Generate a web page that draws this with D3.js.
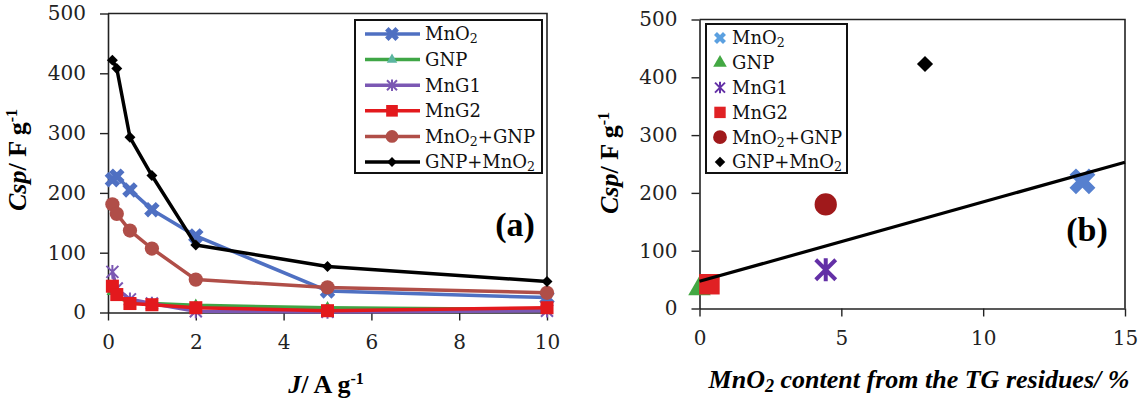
<!DOCTYPE html>
<html>
<head>
<meta charset="utf-8">
<script src="https://cdn.jsdelivr.net/npm/d3@7"></script>
<style>
body { margin: 0; background: #fff; }
</style>
</head>
<body>
<div id="chart"></div>
<script>
// ---- (a) Csp vs current density ----
const currentDensity = [0.1, 0.2, 0.5, 1, 2, 5, 10];
const cspMnO2    = [222, 228, 205, 172, 128, 36, 25];
const cspGNP     = [35, 25, 18, 15, 12, 8, 5];
const cspMnG1    = [68, 40, 22, 15, 2, 1, 3];
const cspMnG2    = [44, 30, 15, 13, 8, 3, 8];
const cspMnO2GNP = [181, 165, 137, 107, 55, 42, 33];
const cspGNPMnO2 = [422, 408, 293, 229, 113, 77, 52];
const seriesNames = ["MnO_2", "GNP", "MnG1", "MnG2", "MnO_2+GNP", "GNP+MnO_2"];

// ---- (b) Csp vs MnO2 content ----
const mno2Content = [13.5, 0, 4.45, 0.35, 4.45, 7.95];
const cspAtLowJ   = [220, 34, 67, 42, 180, 423];
const fitContent  = [0, 15];
const fitCsp      = [47, 253];

const yTicks  = [0, 100, 200, 300, 400, 500];
const xTicksA = [0, 2, 4, 6, 8, 10];
const xTicksB = [0, 5, 10, 15];

// styles, same order as seriesNames
const styleA = [
  {color: "#4f70c2", marker: "x",       size: 150},
  {color: "#3fa646", marker: "tri",     size: 60},
  {color: "#7b58b3", marker: "star",    size: 6},
  {color: "#e3191d", marker: "square",  size: 170},
  {color: "#b04e48", marker: "circle",  size: 160},
  {color: "#000000", marker: "diamond", size: 60}
];
const styleB = [
  {color: "#5680cf", marker: "x",       size: 420, leg: 90},
  {color: "#43a843", marker: "tri",     size: 220, leg: 80},
  {color: "#6330a6", marker: "star",    size: 10,  leg: 5},
  {color: "#e02124", marker: "square",  size: 420, leg: 130},
  {color: "#a0191b", marker: "circle",  size: 390, leg: 150},
  {color: "#000000", marker: "diamond", size: 130, leg: 55}
];

const svg = d3.select("#chart").append("svg")
  .attr("width", 1145).attr("height", 401)
  .style("background", "#fff");

const tickFont = "'DejaVu Serif', serif";
const titleFont = "'Liberation Serif', 'Times New Roman', serif";

// text with "_2" subscripts
function chem(sel, str, fs) {
  str.split(/(_\d)/).forEach(p => {
    if (!p) return;
    if (p[0] === "_") {
      sel.append("tspan").attr("font-size", fs * 0.7)
        .attr("baseline-shift", `${-fs * 0.16}px`).text(p[1]);
    } else {
      sel.append("tspan").text(p);
    }
  });
  return sel;
}

function marker(g, type, size, color, x, y) {
  if (type === "star") {
    const s = size;
    g.append("path")
      .attr("d", `M${-s},${-s}L${s},${s}M${-s},${s}L${s},${-s}M0,${-s * 1.15}L0,${s * 1.15}`)
      .attr("transform", `translate(${x},${y})`)
      .attr("stroke", color).attr("stroke-width", size > 7 ? 4 : 2)
      .attr("fill", "none");
    return;
  }
  let sym = d3.symbolCircle, rot = 0;
  if (type === "x") { sym = d3.symbolCross; rot = 45; }
  if (type === "tri") sym = d3.symbolTriangle;
  if (type === "square") sym = d3.symbolSquare;
  if (type === "diamond") { sym = d3.symbolSquare; rot = 45; }
  g.append("path")
    .attr("d", d3.symbol(sym, size)())
    .attr("transform", `translate(${x},${y}) rotate(${rot})`)
    .attr("fill", color);
}

function styleAxis(g) {
  g.attr("font-family", tickFont);
  g.select(".domain").attr("stroke", "#222").attr("stroke-width", 1.6);
  g.selectAll(".tick line").attr("stroke", "#222").attr("stroke-width", 1.4);
  g.selectAll(".tick text").attr("font-family", tickFont).attr("font-size", 20).attr("fill", "#222");
}

function cspTitle(x, y) {
  const t = svg.append("text")
    .attr("transform", `translate(${x},${y}) rotate(-90)`)
    .attr("text-anchor", "middle")
    .attr("font-family", titleFont).attr("font-weight", "bold").attr("font-size", 26);
  t.append("tspan").attr("font-style", "italic").text("Csp");
  t.append("tspan").text("/ F g");
  t.append("tspan").attr("font-size", 16).attr("baseline-shift", "9px").text("-1");
}

function frame(x, y) {
  svg.append("path")
    .attr("d", `M${x.range()[0]},${y.range()[1]}H${x.range()[1]}V${y.range()[0]}`)
    .attr("fill", "none").attr("stroke", "#222").attr("stroke-width", 1.6);
}

// ================= panel (a) =================
const xA = d3.scaleLinear().domain([0, 10]).range([108, 547]);
const yA = d3.scaleLinear().domain([0, 500]).range([312.5, 13.5]);

frame(xA, yA);
svg.append("g").attr("transform", `translate(0,${yA(0)})`)
  .call(d3.axisBottom(xA).tickValues(xTicksA).tickSize(8).tickSizeOuter(0).tickPadding(14))
  .call(styleAxis);
svg.append("g").attr("transform", `translate(${xA(0)},0)`)
  .call(d3.axisLeft(yA).tickValues(yTicks).tickSize(8).tickSizeOuter(0).tickPadding(14))
  .call(styleAxis);

const seriesA = [cspMnO2, cspGNP, cspMnG1, cspMnG2, cspMnO2GNP, cspGNPMnO2];
const lineA = d3.line().x((d, i) => xA(currentDensity[i])).y(d => yA(d));
const plotA = svg.append("g");
seriesA.forEach((vals, k) => {
  const st = styleA[k];
  plotA.append("path").datum(vals)
    .attr("d", lineA)
    .attr("fill", "none").attr("stroke", st.color)
    .attr("stroke-width", 3.5).attr("stroke-linejoin", "round");
  vals.forEach((v, i) => marker(plotA, st.marker, st.size, st.color, xA(currentDensity[i]), yA(v)));
});

// legend (a)
const legA = svg.append("g");
legA.append("rect").attr("x", 355).attr("y", 20).attr("width", 187).attr("height", 153)
  .attr("fill", "#fff").attr("stroke", "#111").attr("stroke-width", 2);
seriesNames.forEach((name, k) => {
  const st = styleA[k];
  const cy = 34 + k * 25.6;
  legA.append("line").attr("x1", 365).attr("x2", 420).attr("y1", cy).attr("y2", cy)
    .attr("stroke", st.color).attr("stroke-width", 3.5);
  marker(legA, st.marker, st.marker === "star" ? 5 : st.size * 0.8, k === 1 ? "#5bb5a0" : st.color, 392, cy);
  chem(legA.append("text").attr("x", 425).attr("y", cy).attr("dy", "0.36em")
    .attr("font-family", tickFont).attr("font-size", 18).attr("fill", "#111"), name, 18);
});

svg.append("text").attr("x", 515).attr("y", 236).attr("text-anchor", "middle")
  .attr("font-family", titleFont).attr("font-weight", "bold").attr("font-size", 34)
  .text("(a)");

cspTitle(26, 160);
const jTitle = svg.append("text").attr("x", 326).attr("y", 393).attr("text-anchor", "middle")
  .attr("font-family", titleFont).attr("font-weight", "bold").attr("font-size", 26);
jTitle.append("tspan").attr("font-style", "italic").text("J");
jTitle.append("tspan").text("/ A g");
jTitle.append("tspan").attr("font-size", 16).attr("baseline-shift", "9px").text("-1");

// ================= panel (b) =================
const xB = d3.scaleLinear().domain([0, 15]).range([699.5, 1125]);
const yB = d3.scaleLinear().domain([0, 500]).range([308.5, 19.5]);

frame(xB, yB);
svg.append("g").attr("transform", `translate(0,${yB(0)})`)
  .call(d3.axisBottom(xB).tickValues(xTicksB).tickSize(8).tickSizeOuter(0).tickPadding(14))
  .call(styleAxis);
svg.append("g").attr("transform", `translate(${xB(0)},0)`)
  .call(d3.axisLeft(yB).tickValues(yTicks).tickSize(8).tickSizeOuter(0).tickPadding(14))
  .call(styleAxis);

const plotB = svg.append("g");
mno2Content.forEach((c, k) => {
  const st = styleB[k];
  marker(plotB, st.marker, st.size, st.color, xB(c), yB(cspAtLowJ[k]));
});
plotB.append("path").datum(fitContent)
  .attr("d", d3.line().x(d => xB(d)).y((d, i) => yB(fitCsp[i])))
  .attr("stroke", "#000").attr("stroke-width", 3.2).attr("fill", "none");

// legend (b)
const legB = svg.append("g");
legB.append("rect").attr("x", 706).attr("y", 24).attr("width", 141).attr("height", 149)
  .attr("fill", "#fff").attr("stroke", "#111").attr("stroke-width", 2);
seriesNames.forEach((name, k) => {
  const st = styleB[k];
  const cy = 38 + k * 24.8;
  marker(legB, st.marker, st.leg, k === 0 ? "#5ba0e0" : st.color, 720, cy);
  chem(legB.append("text").attr("x", 732).attr("y", cy).attr("dy", "0.36em")
    .attr("font-family", tickFont).attr("font-size", 18).attr("fill", "#111"), name, 18);
});

svg.append("text").attr("x", 1087).attr("y", 241).attr("text-anchor", "middle")
  .attr("font-family", titleFont).attr("font-weight", "bold").attr("font-size", 34)
  .text("(b)");

cspTitle(618, 163);
chem(svg.append("text").attr("x", 919).attr("y", 388).attr("text-anchor", "middle")
  .attr("font-family", titleFont).attr("font-weight", "bold").attr("font-style", "italic")
  .attr("font-size", 26), "MnO_2 content from the TG residues/ %", 26);
</script>
</body>
</html>
